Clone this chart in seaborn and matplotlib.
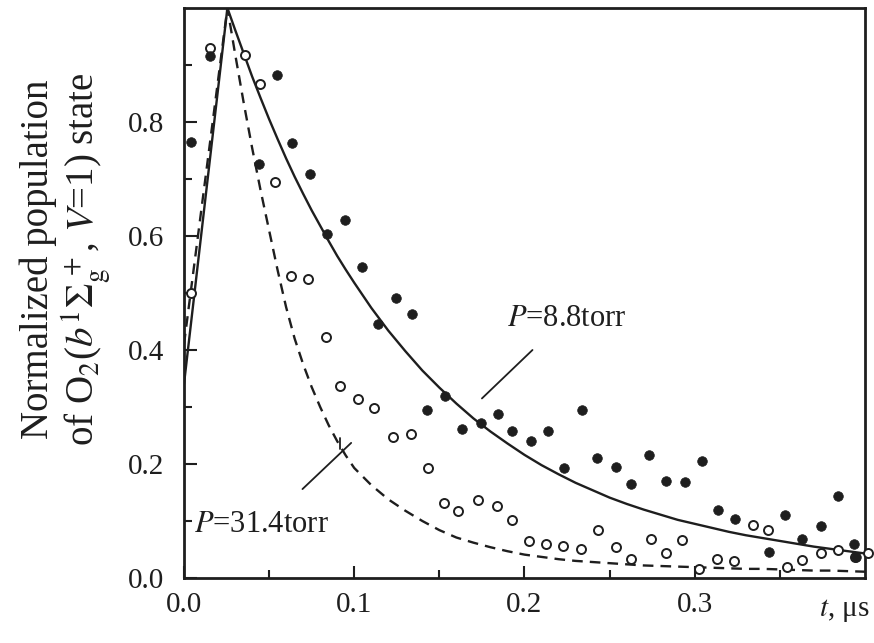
import numpy as np
import pandas as pd
import matplotlib
matplotlib.use("Agg")
import matplotlib.pyplot as plt
import seaborn as sns

# Measured populations, P = 8.8 torr (filled) and P = 31.4 torr (open)
t_88 = [0.004, 0.015, 0.044, 0.0549, 0.0637, 0.074, 0.0838, 0.0946, 0.1044,
        0.1139, 0.1247, 0.1339, 0.1428, 0.1536, 0.1634, 0.1742, 0.1847, 0.1929,
        0.2037, 0.2136, 0.2234, 0.2338, 0.2427, 0.2535, 0.2627, 0.2732, 0.283,
        0.2942, 0.3044, 0.3139, 0.3237, 0.3434, 0.3528, 0.363, 0.3739, 0.3841,
        0.3935, 0.3945]
n_88 = [0.765, 0.915, 0.726, 0.883, 0.763, 0.708, 0.604, 0.628, 0.546,
        0.446, 0.492, 0.463, 0.295, 0.319, 0.262, 0.272, 0.288, 0.257,
        0.240, 0.257, 0.193, 0.294, 0.211, 0.194, 0.165, 0.215, 0.171,
        0.169, 0.205, 0.120, 0.103, 0.046, 0.111, 0.068, 0.092, 0.143,
        0.060, 0.037]

t_314 = [0.004, 0.015, 0.0356, 0.0445, 0.0533, 0.0631, 0.073, 0.0834, 0.0915,
         0.1022, 0.1119, 0.1226, 0.1333, 0.1434, 0.1528, 0.1612, 0.1727, 0.1837,
         0.1929, 0.2028, 0.2126, 0.2224, 0.2329, 0.2431, 0.2535, 0.2627, 0.2741,
         0.2834, 0.2928, 0.3025, 0.313, 0.323, 0.334, 0.343, 0.354, 0.363,
         0.374, 0.384, 0.394, 0.402]
n_314 = [0.50, 0.93, 0.917, 0.866, 0.694, 0.529, 0.524, 0.423, 0.337,
         0.314, 0.298, 0.248, 0.253, 0.193, 0.131, 0.118, 0.136, 0.126,
         0.101, 0.065, 0.060, 0.056, 0.050, 0.085, 0.054, 0.033, 0.068,
         0.043, 0.066, 0.015, 0.033, 0.030, 0.093, 0.085, 0.019, 0.032,
         0.044, 0.049, 0.036, 0.044]

# Model curves
t_fit = [0.0, 0.0255, 0.03, 0.035, 0.04, 0.045, 0.05, 0.055, 0.06, 0.065,
         0.07, 0.075, 0.08, 0.085, 0.09, 0.095, 0.10, 0.11, 0.12, 0.13,
         0.14, 0.15, 0.16, 0.17, 0.18, 0.19, 0.20, 0.21, 0.22, 0.23,
         0.24, 0.25, 0.26, 0.27, 0.28, 0.29, 0.30, 0.31, 0.32, 0.33,
         0.34, 0.35, 0.36, 0.37, 0.38, 0.39, 0.40]
fit_88 = [0.34, 1.0, 0.962, 0.921, 0.880, 0.842, 0.805, 0.770, 0.736, 0.704,
          0.674, 0.645, 0.618, 0.591, 0.565, 0.541, 0.518, 0.474, 0.434, 0.398,
          0.364, 0.334, 0.306, 0.280, 0.257, 0.236, 0.216, 0.198, 0.182, 0.167,
          0.154, 0.141, 0.130, 0.120, 0.111, 0.102, 0.095, 0.088, 0.081, 0.075,
          0.070, 0.065, 0.060, 0.055, 0.051, 0.047, 0.043]
fit_314 = [0.41, 1.0, 0.92, 0.835, 0.755, 0.68, 0.61, 0.54, 0.475, 0.42,
           0.375, 0.335, 0.30, 0.268, 0.24, 0.215, 0.193, 0.163, 0.138, 0.118,
           0.100, 0.084, 0.071, 0.062, 0.054, 0.047, 0.041, 0.037, 0.033, 0.030,
           0.028, 0.026, 0.024, 0.022, 0.021, 0.020, 0.019, 0.018, 0.017, 0.016,
           0.016, 0.015, 0.014, 0.013, 0.013, 0.012, 0.011]

x_ticks = [0.0, 0.1, 0.2, 0.3]
x_ticklabels = ["0.0", "0.1", "0.2", "0.3"]
y_ticks = [0.0, 0.2, 0.4, 0.6, 0.8]
y_ticklabels = ["0.0", "0.2", "0.4", "0.6", "0.8"]

sns.set_theme(style="white")
plt.rcParams["font.family"] = ["Liberation Serif", "DejaVu Serif"]
plt.rcParams["mathtext.fontset"] = "stix"

ink = "#1e1e1e"

fig = plt.figure(figsize=(8.74, 6.43), dpi=100)
ax = fig.add_axes([0.2105, 0.1011, 0.7792, 0.8865])

fits = pd.DataFrame({"t": t_fit, "n88": fit_88, "n314": fit_314})
sns.lineplot(data=fits, x="t", y="n88", ax=ax, color=ink, linewidth=1.7,
             estimator=None, sort=False)
sns.lineplot(data=fits, x="t", y="n314", ax=ax, color=ink, linewidth=1.7,
             estimator=None, sort=False, dashes=False, linestyle=(0, (4.5, 3)))

sns.scatterplot(x=t_314, y=n_314, ax=ax, marker="o", s=42,
                facecolor="white", edgecolor=ink, linewidth=1.4, zorder=3,
                clip_on=False)
sns.scatterplot(x=t_88, y=n_88, ax=ax, marker="o", s=48,
                color=ink, edgecolor=ink, linewidth=0.5, zorder=4)

ax.set_xlim(0.0, 0.40)
ax.set_ylim(0.0, 1.0)
ax.set_xticks(x_ticks)
ax.set_xticklabels(x_ticklabels)
ax.set_yticks(y_ticks)
ax.set_yticklabels(y_ticklabels)
ax.set_xticks([0.05, 0.15, 0.25, 0.35], minor=True)
ax.set_yticks([0.1, 0.3, 0.5, 0.7, 0.9], minor=True)
ax.tick_params(axis="both", which="major", direction="in", length=9,
               width=1.5, color=ink, labelsize=21, labelcolor=ink,
               bottom=True, left=True, top=False, right=False)
ax.tick_params(axis="x", which="major", pad=10)
ax.tick_params(axis="y", which="major", pad=14)
ax.tick_params(axis="both", which="minor", direction="in", length=6,
               width=1.5, color=ink, bottom=True, left=True)
for sp in ax.spines.values():
    sp.set_color(ink)
    sp.set_linewidth(2.0)

ax.set_xlabel("")
ax.set_ylabel("Normalized population\n"
              "of O$_2$($b^1\\Sigma_\\mathrm{g}^{\\,+}$, $V$=1) state",
              fontsize=28, color=ink, linespacing=1.05)
ax.yaxis.set_label_coords(-0.104, 0.56)

ax.annotate("$t$, μs", xy=(0.388, 0), xycoords=("data", "axes fraction"),
            xytext=(0, -14), textcoords="offset points", ha="center",
            va="top", fontsize=21, color=ink)

# Curve labels with leader lines
ax.text(0.190, 0.455, "$P$=8.8torr", fontsize=22, color=ink, va="center")
ax.plot([0.2047, 0.175], [0.40, 0.315], color=ink, linewidth=1.3)
ax.text(0.006, 0.093, "$P$=31.4torr", fontsize=22, color=ink, va="center")
ax.plot([0.0696, 0.0982], [0.156, 0.237], color=ink, linewidth=1.3)
ax.plot([0.0915, 0.0915], [0.226, 0.245], color=ink, linewidth=1.3)

fig.savefig("out.png", dpi=100, facecolor="white")
